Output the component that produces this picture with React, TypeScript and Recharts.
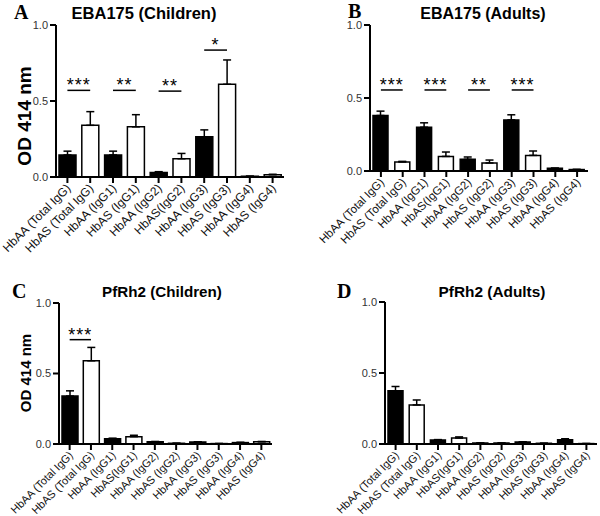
import React from 'react';
import { BarChart, Bar, XAxis, YAxis, Cell, ErrorBar, ReferenceLine } from 'recharts';

// category labels (slightly different spacing in panel A vs the others)
const labelsA = [
  'HbAA (Total IgG)', 'HbAS (Total IgG)', 'HbAA (IgG1)', 'HbAS (IgG1)', 'HbAA (IgG2)',
  'HbAS(IgG2)', 'HbAA (IgG3)', 'HbAS (IgG3)', 'HbAA (IgG4)', 'HbAS (IgG4)',
];
const labelsBCD = [
  'HbAA (Total IgG)', 'HbAS (Total IgG)', 'HbAA (IgG1)', 'HbAS(IgG1)', 'HbAA (IgG2)',
  'HbAS (IgG2)', 'HbAA (IgG3)', 'HbAS (IgG3)', 'HbAA (IgG4)', 'HbAS (IgG4)',
];

// OD 414 nm means and upper SEM
const meanA = [0.145, 0.34, 0.145, 0.33, 0.03, 0.12, 0.265, 0.61, 0.005, 0.015];
const semA = [0.025, 0.09, 0.025, 0.08, 0.005, 0.035, 0.045, 0.16, 0, 0.003];
const meanB = [0.38, 0.062, 0.3, 0.1, 0.08, 0.055, 0.35, 0.107, 0.018, 0.01];
const semB = [0.03, 0.004, 0.03, 0.03, 0.016, 0.02, 0.035, 0.03, 0.002, 0.001];
const meanC = [0.34, 0.59, 0.038, 0.052, 0.016, 0.005, 0.014, 0.003, 0.01, 0.016];
const semC = [0.037, 0.095, 0.003, 0.01, 0.002, 0, 0.002, 0, 0.002, 0.002];
const meanD = [0.375, 0.275, 0.028, 0.042, 0.007, 0.007, 0.014, 0.005, 0.03, 0.003];
const semD = [0.03, 0.035, 0.003, 0.008, 0, 0, 0.002, 0, 0.007, 0];

const yTicks = [0, 0.5, 1];

type Sig = { from: number; to: number; mark: string; y: number };
const sigA: Sig[] = [
  { from: 0, to: 1, mark: '***', y: 0.57 },
  { from: 2, to: 3, mark: '**', y: 0.57 },
  { from: 4, to: 5, mark: '**', y: 0.565 },
  { from: 6, to: 7, mark: '*', y: 0.835 },
];
const sigB: Sig[] = [
  { from: 0, to: 1, mark: '***', y: 0.555 },
  { from: 2, to: 3, mark: '***', y: 0.555 },
  { from: 4, to: 5, mark: '**', y: 0.555 },
  { from: 6, to: 7, mark: '***', y: 0.555 },
];
const sigC: Sig[] = [{ from: 0, to: 1, mark: '***', y: 0.74 }];
const sigD: Sig[] = [];

const FONT = '"Liberation Sans", Arial, sans-serif';

const AngledTick = (props: any) => {
  const { x, y, payload, fs } = props;
  const px = x + 4;
  const py = y + 4;
  return (
    <text x={px} y={py} transform={`rotate(-45 ${px} ${py})`} textAnchor="end" fontSize={fs} fontFamily={FONT} fill="#111">
      {payload.value}
    </text>
  );
};

interface PanelProps {
  labels: string[];
  means: number[];
  sems: number[];
  sigs: Sig[];
  left: number;
  top: number;
  width: number;
  height: number;
  yAxisWidth: number;
  marginTop: number;
  marginRight: number;
  xAxisHeight: number;
  barSize: number;
  tickFont: number;
}

function Panel(p: PanelProps) {
  const data = p.labels.map((name, i) => ({ name, value: p.means[i], err: [0, p.sems[i]] }));
  return (
    <div style={{ position: 'absolute', left: p.left, top: p.top }}>
      <BarChart
        width={p.width}
        height={p.height}
        data={data}
        margin={{ top: p.marginTop, right: p.marginRight, left: 0, bottom: 0 }}
        barSize={p.barSize}
      >
        <XAxis
          dataKey="name"
          height={p.xAxisHeight}
          interval={0}
          tickSize={6}
          tick={(t: any) => <AngledTick {...t} fs={p.tickFont} />}
          axisLine={{ stroke: '#000', strokeWidth: 2 }}
          tickLine={{ stroke: '#000', strokeWidth: 2 }}
        />
        <YAxis
          width={p.yAxisWidth}
          domain={[0, 1]}
          ticks={yTicks}
          tickSize={6}
          tickMargin={2}
          tickFormatter={(v: number) => v.toFixed(1)}
          tick={{ fontSize: 11, fill: '#333', fontFamily: FONT }}
          axisLine={{ stroke: '#000', strokeWidth: 2 }}
          tickLine={{ stroke: '#000', strokeWidth: 2 }}
        />
        <Bar dataKey="value" isAnimationActive={false} stroke="#000" strokeWidth={1.5}>
          {data.map((d, i) => (
            <Cell key={d.name} fill={i % 2 === 0 ? '#000' : '#fff'} />
          ))}
          <ErrorBar dataKey="err" direction="y" width={4} stroke="#000" strokeWidth={1.5} isAnimationActive={false} />
        </Bar>
        {p.sigs.map((s) => (
          <ReferenceLine
            key={`${s.from}-${s.to}`}
            segment={[
              { x: p.labels[s.from], y: s.y },
              { x: p.labels[s.to], y: s.y },
            ]}
            stroke="#000"
            strokeWidth={1.5}
            label={{ value: s.mark, position: 'top', offset: -1, fontSize: 18, fill: '#000', fontFamily: FONT, letterSpacing: 1 }}
          />
        ))}
      </BarChart>
    </div>
  );
}

export default function App() {
  return (
    <div style={{ position: 'absolute', left: 0, top: 0, width: 600, height: 516, background: '#fff' }}>
      <Panel labels={labelsA} means={meanA} sems={semA} sigs={sigA} left={0} top={0} width={300} height={260}
        yAxisWidth={56} marginTop={25} marginRight={16} xAxisHeight={83} barSize={17} tickFont={12} />
      <Panel labels={labelsBCD} means={meanB} sems={semB} sigs={sigB} left={300} top={0} width={300} height={260}
        yAxisWidth={70} marginTop={25} marginRight={12} xAxisHeight={89} barSize={15} tickFont={11.5} />
      <Panel labels={labelsBCD} means={meanC} sems={semC} sigs={sigC} left={0} top={258} width={300} height={258}
        yAxisWidth={59} marginTop={45} marginRight={28} xAxisHeight={72} barSize={16} tickFont={11} />
      <Panel labels={labelsBCD} means={meanD} sems={semD} sigs={sigD} left={300} top={258} width={300} height={258}
        yAxisWidth={85} marginTop={44} marginRight={3} xAxisHeight={72} barSize={15} tickFont={11} />
      <svg width={600} height={516} style={{ position: 'absolute', left: 0, top: 0, pointerEvents: 'none' }}>
        <g fontFamily='"Liberation Serif", "Times New Roman", serif' fontWeight="bold" fontSize={20} fill="#000">
          <text x={14} y={19}>A</text>
          <text x={348} y={18}>B</text>
          <text x={12} y={298}>C</text>
          <text x={337} y={298}>D</text>
        </g>
        <g fontFamily={FONT} fontWeight="bold" fill="#000" textAnchor="middle">
          <text x={144} y={19} fontSize={16.5}>EBA175 (Children)</text>
          <text x={483} y={19} fontSize={16}>EBA175 (Adults)</text>
          <text x={162} y={297} fontSize={15.2}>PfRh2 (Children)</text>
          <text x={492} y={297} fontSize={15.4}>PfRh2 (Adults)</text>
          <text x={31} y={116} fontSize={19} transform="rotate(-90 31 116)">OD 414 nm</text>
          <text x={31} y={373} fontSize={15} transform="rotate(-90 31 373)">OD 414 nm</text>
        </g>
      </svg>
    </div>
  );
}
